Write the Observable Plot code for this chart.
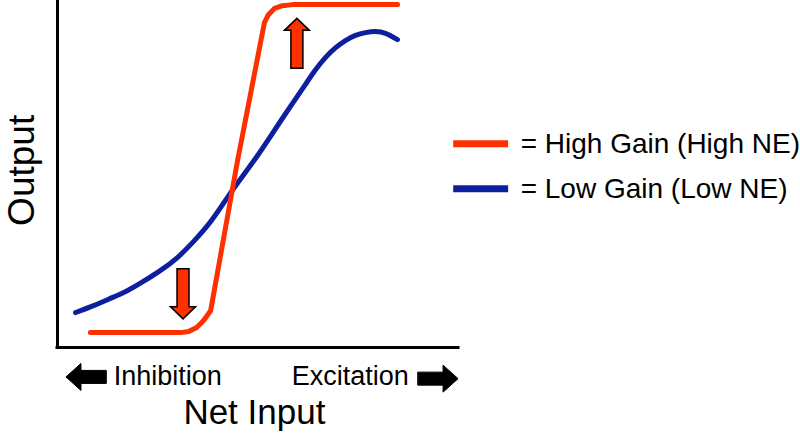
<!DOCTYPE html>
<html>
<head>
<meta charset="utf-8">
<script src="https://cdn.jsdelivr.net/npm/d3@7"></script>
<script src="https://cdn.jsdelivr.net/npm/@observablehq/plot@0.6"></script>
<style>
  html, body { margin: 0; padding: 0; background: #fff; }
  #chart svg { display: block; }
</style>
</head>
<body>
<div id="chart"></div>
<script>
// ---- data (net input 0–100, output 0–100) ----
const highGainX = [8.2, 30.7, 32.7, 34.7, 36.2, 37.2, 38.2, 44.9, 51.6, 52.6, 54.1, 56.1, 58.6, 84.8];
const highGainY = [4.3, 4.3, 4.6, 5.8, 7.5, 9.0, 10.7, 54.0, 93.9, 96.2, 98.0, 98.8, 99.1, 99.1];

const lowGainX = [4.5, 9.0, 13.2, 17.5, 21.4, 25.7, 29.9, 33.9, 38.2, 42.4, 45.6, 49.9, 53.9, 58.1, 61.8, 64.3, 66.8, 69.3, 71.8, 74.3, 76.8, 79.3, 81.8, 84.8];
const lowGainY = [10.1, 12.1, 14.2, 16.5, 19.1, 22.3, 26.0, 30.6, 36.4, 43.4, 48.6, 55.5, 62.4, 69.7, 76.0, 80.2, 83.8, 86.6, 88.7, 90.2, 91.0, 91.3, 90.8, 89.0];

// gain-change arrows (down at low end, up at high end)
const gainArrowX = [31.3, 59.7];
const gainArrowY = [15.5, 87.9];
const gainArrowDir = [180, 0];

// net input direction arrows and labels
const inputArrowX = [7.1, 94.9];
const inputArrowY = [-8.5, -9.0];
const inputArrowDir = [-90, 90];
const inputLabels = ["Inhibition", "Excitation"];
const inputLabelX = [14.0, 87.6];

const xTitle = "Net Input";
const yTitle = "Output";

const legendLabels = ["= High Gain (High NE)", "= Low Gain (Low NE)"];
const legendColors = ["#ff3000", "#0c1f9f"];
const legendY = [58.9, 45.9];

// ---- tables ----
const highGain = highGainX.map((x, i) => ({x, y: highGainY[i]}));
const lowGain = lowGainX.map((x, i) => ({x, y: lowGainY[i]}));
const gainArrows = gainArrowX.map((x, i) => ({x, y: gainArrowY[i], r: gainArrowDir[i]}));
const inputArrows = inputArrowX.map((x, i) => ({x, y: inputArrowY[i], r: inputArrowDir[i]}));
const legend = legendLabels.map((t, i) => ({t, c: legendColors[i], y: legendY[i]}));

function blockArrow(head, headHalf, shaftHalf) {
  return {
    draw(ctx, l) {
      ctx.moveTo(-shaftHalf, 0);
      ctx.lineTo(-shaftHalf, -(l - head));
      ctx.lineTo(-headHalf, -(l - head));
      ctx.lineTo(0, -l);
      ctx.lineTo(headHalf, -(l - head));
      ctx.lineTo(shaftHalf, -(l - head));
      ctx.lineTo(shaftHalf, 0);
      ctx.closePath();
    }
  };
}

const font = "'Liberation Sans', Arial, Helvetica, sans-serif";

const chart = Plot.plot({
  width: 800,
  height: 438,
  marginLeft: 57,
  marginRight: 342,
  marginTop: 1,
  marginBottom: 91,
  x: {domain: [0, 100], axis: null},
  y: {domain: [0, 100], axis: null},
  style: {fontFamily: font, background: "#fff", color: "#000", overflow: "visible"},
  marks: [
    Plot.line(lowGain, {x: "x", y: "y", stroke: legendColors[1], strokeWidth: 5, curve: "natural"}),
    Plot.line(highGain, {x: "x", y: "y", stroke: legendColors[0], strokeWidth: 5, strokeLinejoin: "round"}),
    Plot.ruleX([0], {stroke: "#000", strokeWidth: 3, strokeLinecap: "square"}),
    Plot.ruleY([0], {stroke: "#000", strokeWidth: 3, strokeLinecap: "square"}),
    Plot.vector(gainArrows, {
      x: "x", y: "y", rotate: "r", length: 50,
      shape: blockArrow(12, 12.5, 6),
      fill: legendColors[0], stroke: "#000", strokeWidth: 1.5, strokeLinejoin: "miter"
    }),
    Plot.vector(inputArrows, {
      x: "x", y: "y", rotate: "r", length: 40,
      shape: blockArrow(15, 13.5, 6.5),
      fill: "#000", stroke: "#000", strokeWidth: 1, strokeLinejoin: "miter"
    }),
    Plot.text([inputLabels[0]], {x: inputLabelX[0], y: -8.4, text: d => d, textAnchor: "start", fontSize: 27, fill: "#000"}),
    Plot.text([inputLabels[1]], {x: inputLabelX[1], y: -8.4, text: d => d, textAnchor: "end", fontSize: 27, fill: "#000"}),
    Plot.text([xTitle], {x: 49.1, y: -19.0, text: d => d, fontSize: 35, fill: "#000"}),
    Plot.text([yTitle], {x: -8.7, y: 51.2, text: d => d, fontSize: 37, rotate: -90, fill: "#000"}),
    Plot.ruleY(legend, {x1: 98.8, x2: 112.5, y: "y", stroke: "c", strokeWidth: 7}),
    Plot.text(legend, {x: 115.5, y: "y", text: "t", textAnchor: "start", fontSize: 28, fill: "#000"})
  ]
});
document.getElementById("chart").append(chart);
</script>
</body>
</html>
